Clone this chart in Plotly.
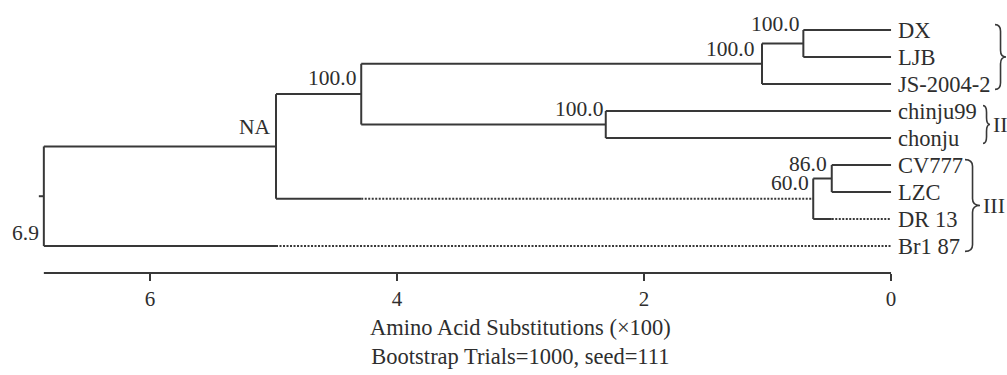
import plotly.graph_objects as go

# ---------------- data ----------------
leaves = ["DX", "LJB", "JS-2004-2", "chinju99", "chonju", "CV777", "LZC", "DR 13", "Br1 87"]
node_names = ["n1", "n2", "n3", "n4", "n5", "n6", "n7", "root"]
node_children = [("DX", "LJB"), ("n1", "JS-2004-2"), ("chinju99", "chonju"), ("n2", "n3"),
                 ("CV777", "LZC"), ("n5", "DR 13"), ("n4", "n6"), ("n7", "Br1 87")]
node_heights = [0.71, 1.045, 2.31, 4.29, 0.48, 0.63, 4.98, 6.86]
node_support = ["100.0", "100.0", "100.0", "100.0", "86.0", "60.0", "NA", "6.9"]
# branches drawn partly dotted: child name and the height where the dotted part starts
dotted_child = ["n6", "DR 13", "Br1 87"]
dotted_from = [4.29, 0.48, 4.98]
group_labels = ["", "II", "III"]
group_first = [0, 3, 5]
group_last = [2, 4, 8]
x_ticks = [6, 4, 2, 0]
x_title = "Amino Acid Substitutions (×100)<br>Bootstrap Trials=1000, seed=111"

# ---------------- style ----------------
FONT = "Liberation Serif"
TXT = "#2e2e2e"
LINE = "#383838"
LW = 2
PX_PER_UNIT = 123.5
X_RANGE = [7.215, -0.939]
Y_RANGE = [9, -1.111]
label_yshift = {"n1": 20, "n2": 15, "n3": 15.5, "n4": 16.5, "n5": 15, "n6": 16, "n7": 19, "root": -37}
label_xshift = {"n1": -2, "n2": -6, "n3": -1, "n4": -3, "n5": -3, "n6": -2, "n7": -3, "root": -3}
brace_left_px = [104, 92, 74]      # brace left edge, px to the right of the tips
brace_width_px = [11, 7, 15]
brace_ext = 0.2
stem_px = 5

# ---------------- geometry from the tree ----------------
height = {name: 0.0 for name in leaves}
ypos = {name: float(i) for i, name in enumerate(leaves)}
for name, ch, h in zip(node_names, node_children, node_heights):
    height[name] = h
    ypos[name] = (ypos[ch[0]] + ypos[ch[1]]) / 2.0
dotted = dict(zip(dotted_child, dotted_from))

sx, sy, dx, dy = [], [], [], []
for name, ch in zip(node_names, node_children):
    h = height[name]
    sx += [h, h, None]
    sy += [ypos[ch[0]], ypos[ch[1]], None]
    for c in ch:
        if c in dotted:
            sx += [h, dotted[c], None]
            sy += [ypos[c], ypos[c], None]
            dx += [dotted[c], height[c], None]
            dy += [ypos[c], ypos[c], None]
        else:
            sx += [h, height[c], None]
            sy += [ypos[c], ypos[c], None]
rh = height["root"]
sx += [rh, rh + stem_px / PX_PER_UNIT, None]
sy += [ypos["root"], ypos["root"], None]

fig = go.Figure()
fig.add_trace(go.Scatter(x=sx, y=sy, mode="lines", line=dict(color=LINE, width=LW),
                         hoverinfo="skip", showlegend=False))
fig.add_trace(go.Scatter(x=dx, y=dy, mode="lines",
                         line=dict(color=LINE, width=LW, dash="2px,1.5px"),
                         hoverinfo="skip", showlegend=False))

ann = []
for name in leaves:
    ann.append(dict(x=height[name], y=ypos[name], xref="x", yref="y", text=name,
                    showarrow=False, xanchor="left", yanchor="middle", xshift=5,
                    font=dict(family=FONT, size=22.5, color=TXT)))
for name, lab in zip(node_names, node_support):
    ann.append(dict(x=height[name], y=ypos[name], xref="x", yref="y", text=lab,
                    showarrow=False, xanchor="right", yanchor="middle",
                    xshift=label_xshift[name], yshift=label_yshift[name],
                    font=dict(family=FONT, size=21.5, color=TXT)))

shapes = []
shapes.append(dict(type="line", xref="x", yref="paper", x0=height["root"], x1=0, y0=0, y1=0,
                   line=dict(color=LINE, width=LW)))
for lab, f, l, bl, bw in zip(group_labels, group_first, group_last, brace_left_px, brace_width_px):
    xl = -bl / PX_PER_UNIT
    w = bw / PX_PER_UNIT
    xm = xl - w / 2
    xt = xl - w
    yt = f - brace_ext
    yb = l + brace_ext
    ym = (f + l) / 2
    r = 0.25
    path = (f"M {xl},{yt} Q {xm},{yt} {xm},{yt + r} L {xm},{ym - r} "
            f"Q {xm},{ym} {xt},{ym} Q {xm},{ym} {xm},{ym + r} "
            f"L {xm},{yb - r} Q {xm},{yb} {xl},{yb}")
    shapes.append(dict(type="path", xref="x", yref="y", path=path,
                       line=dict(color=LINE, width=1.6)))
    if lab:
        ann.append(dict(x=xt, y=ym, xref="x", yref="y", text=lab, showarrow=False,
                        xanchor="left", yanchor="middle", xshift=1,
                        font=dict(family=FONT, size=22, color=TXT)))

ann.append(dict(x=0.517, y=-0.251, xref="paper", yref="paper", text=x_title,
                showarrow=False, xanchor="center", yanchor="middle",
                font=dict(family=FONT, size=22.5, color=TXT)))

fig.update_layout(
    width=1007, height=375,
    margin=dict(l=0, r=0, t=0, b=102),
    paper_bgcolor="white", plot_bgcolor="white",
    xaxis=dict(range=X_RANGE, showgrid=False, zeroline=False, showline=False,
               tickvals=x_ticks, ticktext=[str(t) for t in x_ticks],
               ticks="outside", ticklen=7, tickwidth=2, tickcolor=LINE,
               tickfont=dict(family=FONT, size=21, color=TXT), fixedrange=True),
    yaxis=dict(range=Y_RANGE, visible=False, fixedrange=True),
    annotations=ann, shapes=shapes,
)
fig.write_html("out.html", config={"displayModeBar": False},
               post_script="document.body.style.margin='0';")
